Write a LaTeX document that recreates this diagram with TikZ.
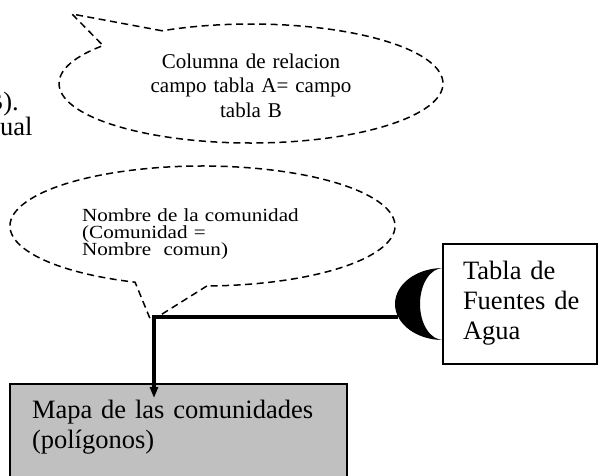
\documentclass[tikz,border=0pt]{standalone}
\usepackage{fontspec}
\setmainfont{Liberation Serif}
\newfontfamily\wideserif[FakeStretch=1.14]{Liberation Serif}
\usetikzlibrary{arrows.meta,calc}
\definecolor{mapgray}{RGB}{192,192,192}
\newcommand\cfontA{\fontsize{21}{24.5}\selectfont}
\newcommand\cfontB{\wideserif\fontsize{18.5}{17.4}\selectfont\lineskiplimit=-50pt\relax}
\newcommand\bigfnt{\fontsize{26.5}{30}\selectfont}
\begin{document}
\begin{tikzpicture}[x=1pt,y=-1pt,
  callout/.style={draw=black, line width=1.5pt, dash pattern=on 7pt off 4.5pt, line join=miter},
  ctextA/.style={inner sep=0pt, font=\cfontA, execute at begin node=\cfontA},
  ctextB/.style={inner sep=0pt, font=\cfontB, execute at begin node=\cfontB},
  fragtext/.style={inner sep=0pt, font=\bigfnt},
  tablebox/.style={draw=black, line width=1.6pt, fill=white, outer sep=0pt,
    inner xsep=20pt, inner ysep=8pt, align=left, anchor=north west,
    font=\bigfnt, execute at begin node=\bigfnt},
  conn/.style={line width=3.5pt, line join=miter},
  moonshape/.style={fill=black}
]
\useasboundingbox (0,0) rectangle (602,475);
\clip (0,0) rectangle (602,475);
\fill[white] (0,0) rectangle (602,475);

% fragments of surrounding text
\node[fragtext, anchor=base east] (frag1) at (19,110) {B).};
\node[fragtext, anchor=base west] (frag2) at (0,135) {ual};

% callout 1
\coordinate (tip1) at (72,14);
\draw[callout] ([shift={(251,83.5)}]-117.6:192 and 59.5) -- (tip1)
  -- ([shift={(251,83.5)}]219.6:192 and 59.5)
  arc[start angle=219.6, end angle=-117.6, x radius=192, y radius=59.5] -- cycle;
\node[ctextA, text width=230pt, align=center, anchor=base] (c1) at (251,68)
  {Columna de relacion\\campo tabla A= campo\\tabla B};

% callout 2
\coordinate (tip2) at (151,321);
\draw[callout] ([shift={(202.5,226)}]88.7:192.5 and 60) -- (tip2)
  -- ([shift={(202.5,226)}]110.5:192.5 and 60)
  arc[start angle=110.5, end angle=448.7, x radius=192.5, y radius=60] -- cycle;
\node[ctextB, text width=240pt, align=left, anchor=base west] (c2) at (82,221)
  {Nombre de la comunidad\\(Comunidad =\\Nombre~ comun)};

% crescent
\fill[moonshape] (443,268) arc[start angle=-90, end angle=-270, x radius=48, y radius=36]
  arc[start angle=90, end angle=270, x radius=23, y radius=36] -- cycle;
\coordinate (moon) at (398,317);

% boxes
\node[tablebox, text width=114pt, text height=27pt, text depth=77pt] (tabla) at (443,244)
  {Tabla~de\\Fuentes~de\\Agua};
\node[tablebox, fill=mapgray, inner xsep=22pt, text width=293pt, text height=26pt, text depth=60pt] (mapa) at (10,384)
  {Mapa de las comunidades\\(polígonos)};

% connectors
\coordinate (j) at (154,317);
\draw[conn, -{Triangle[length=11pt,width=8pt]}] (moon) -- (j) -- ($(j |- mapa.north)+(0,14)$);
\end{tikzpicture}
\end{document}
